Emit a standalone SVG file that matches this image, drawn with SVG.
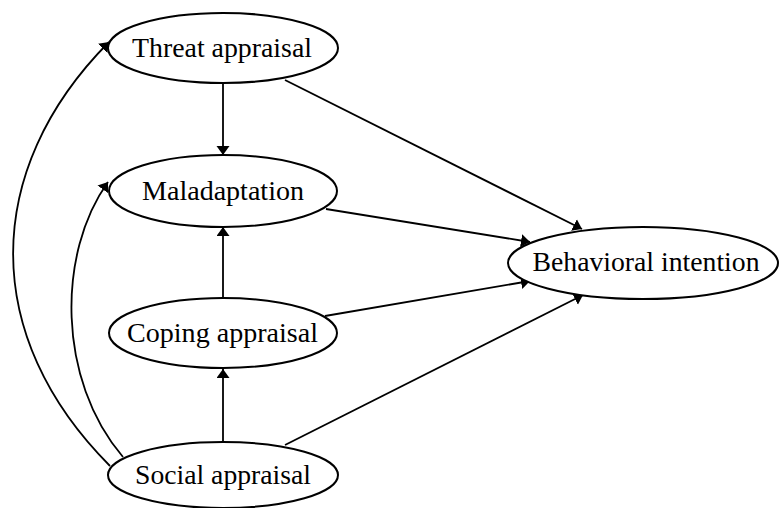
<svg xmlns="http://www.w3.org/2000/svg" width="779" height="508" viewBox="0 0 779 508">
<style>
.node ellipse{fill:#fff;stroke:#000;stroke-width:2}
.node text{font-family:"Liberation Serif","DejaVu Serif",serif;font-size:27px;fill:#000;text-anchor:middle}
.edge{fill:none;stroke:#000;stroke-width:1.8}
</style>
<defs>
<marker id="ah" markerUnits="userSpaceOnUse" markerWidth="10" markerHeight="14" refX="9" refY="6.5" orient="auto">
<path d="M0,0 L9,6.5 L0,13 z" fill="#000"/>
</marker>
</defs>
<g id="connectors">
<path class="edge" d="M223,84 L223,155" marker-end="url(#ah)"/>
<path class="edge" d="M223,298 L223,227" marker-end="url(#ah)"/>
<path class="edge" d="M223,442 L223,369" marker-end="url(#ah)"/>
<path class="edge" d="M285,80 L582,229" marker-end="url(#ah)"/>
<path class="edge" d="M326,209 L530,242" marker-end="url(#ah)"/>
<path class="edge" d="M325,316 L530,281" marker-end="url(#ah)"/>
<path class="edge" d="M285,445 L583,295" marker-end="url(#ah)"/>
<path class="edge" d="M110,466 C-19,337 -19,171 109,42" marker-end="url(#ah)"/>
<path class="edge" d="M123,457 C57,380 57,253 108,182" marker-end="url(#ah)"/>
</g>
<g id="threat" class="node">
<ellipse cx="223" cy="48" rx="115" ry="35"/>
<text x="222" y="57" textLength="180" lengthAdjust="spacingAndGlyphs">Threat appraisal</text>
</g>
<g id="maladaptation" class="node">
<ellipse cx="223" cy="191" rx="114" ry="36"/>
<text x="223" y="200" textLength="162" lengthAdjust="spacingAndGlyphs">Maladaptation</text>
</g>
<g id="coping" class="node">
<ellipse cx="223" cy="333" rx="114" ry="35"/>
<text x="222.5" y="342" textLength="191" lengthAdjust="spacingAndGlyphs">Coping appraisal</text>
</g>
<g id="social" class="node">
<ellipse cx="223" cy="475" rx="115" ry="33"/>
<text x="223" y="484" textLength="176" lengthAdjust="spacingAndGlyphs">Social appraisal</text>
</g>
<g id="behavioral" class="node">
<ellipse cx="643" cy="263" rx="135" ry="36"/>
<text x="646" y="271" textLength="227" lengthAdjust="spacingAndGlyphs">Behavioral intention</text>
</g>
</svg>
